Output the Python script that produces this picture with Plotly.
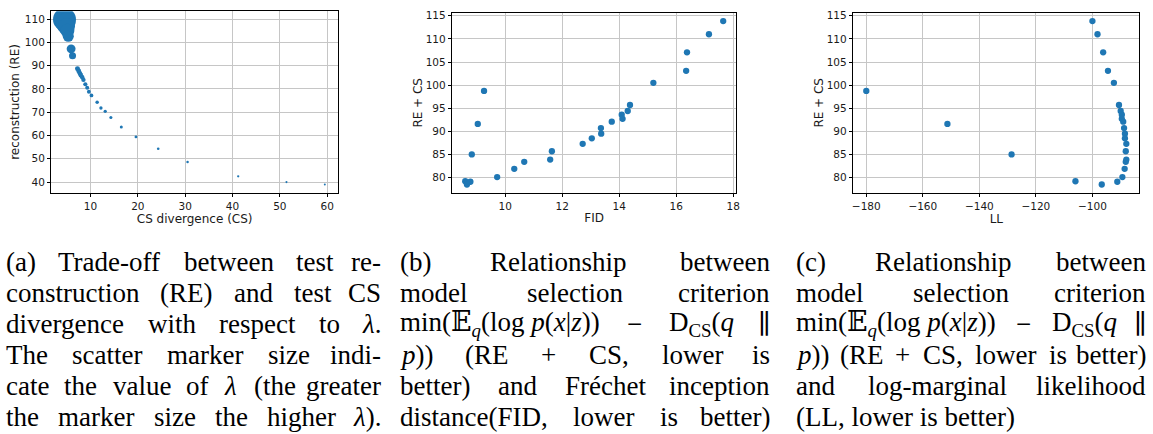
import re
import plotly.graph_objects as go

# ---------------- data ----------------
# (a) trade-off RE vs CS, marker size ~ lambda
a_cs = [4.5, 4.7, 4.9, 5.1, 5.3, 5.9, 6.2, 7.25, 7.5, 7.75, 7.95, 8.25, 8.5, 8.9,
        9.3, 9.65, 10.2, 11.4, 12.2, 13.1, 14.3, 16.5, 19.6, 24.3, 30.5, 41.2, 51.4, 59.5]
a_re = [109.8, 108.3, 106.8, 105.0, 102.6, 97.2, 94.2, 88.7, 87.7, 86.7, 85.9, 85.0,
        83.9, 82.0, 80.5, 78.8, 77.2, 74.3, 71.8, 70.4, 67.7, 63.7, 59.4, 54.3, 48.6,
        42.5, 40.0, 39.0]
a_lambda = [100, 75, 55, 37, 23, 15, 9.3, 4.7, 4.5, 4.2, 4.0, 3.8, 3.6, 3.3, 3.0, 2.8,
            2.6, 2.3, 2.1, 2.0, 1.8, 1.7, 1.5, 1.3, 1.2, 1.0, 0.8, 0.75]

# (b) RE + CS vs FID, (c) RE + CS vs LL
b_fid = [17.65, 17.15, 16.38, 16.35, 15.2, 9.26, 14.38, 14.3, 14.09, 14.12, 13.74, 9.04,
         13.36, 13.37, 13.04, 12.72, 11.64, 8.83, 11.58, 10.67, 10.32, 9.72, 8.6, 8.78, 8.66]
re_cs = [113.85, 111.0, 107.1, 103.1, 100.5, 98.75, 95.7, 94.4, 93.6, 92.7, 92.1, 91.6,
         90.7, 89.5, 88.5, 87.3, 85.7, 85.0, 83.9, 83.4, 81.9, 80.1, 79.2, 79.1, 78.5]
c_ll = [-100.0, -98.2, -96.2, -94.5, -92.4, -180.0, -90.6, -90.0, -89.6, -89.6, -89.1,
        -151.3, -88.8, -88.5, -88.5, -88.0, -88.2, -128.6, -88.0, -88.2, -88.6, -89.4,
        -106.0, -91.2, -96.7]

a_xticks = [10, 20, 30, 40, 50, 60]
a_yticks = [40, 50, 60, 70, 80, 90, 100, 110]
b_xticks = [10, 12, 14, 16, 18]
bc_yticks = [80, 85, 90, 95, 100, 105, 110, 115]
c_xticks = [-180, -160, -140, -120, -100]

# captions: list of (tokens, justified); tokens are the stretchable words
cap_a = [
    (["(a)", "Trade-off", "between", "test", "re-"], True),
    (["construction", "(RE)", "and", "test", "CS"], True),
    (["divergence", "with", "respect", "to", "<i>λ</i>."], True),
    (["The", "scatter", "marker", "size", "indi-"], True),
    (["cate", "the", "value", "of", "<i>λ</i>", "(the", "greater"], True),
    (["the", "marker", "size", "the", "higher", "<i>λ</i>)."], True),
]
MATH = ["min(𝔼<sub><i>q</i></sub>(log <i>p</i>(<i>x</i>|<i>z</i>))", "−",
        "D<sub>CS</sub>(<i>q</i>", "∥"]
cap_b = [
    (["(b)", "Relationship", "between"], True),
    (["model", "selection", "criterion"], True),
    (MATH, True),
    (["<i>p</i>))", "(RE", "+", "CS,", "lower", "is"], True),
    (["better)", "and", "Fréchet", "inception"], True),
    (["distance(FID,", "lower", "is", "better)"], True),
]
cap_c = [
    (["(c)", "Relationship", "between"], True),
    (["model", "selection", "criterion"], True),
    (MATH, True),
    (["<i>p</i>))", "(RE", "+", "CS,", "lower", "is", "better)"], True),
    (["and", "log-marginal", "likelihood"], True),
    (["(LL,", "lower", "is", "better)"], False),
]

# ---------------- layout ----------------
W, H = 1153, 434
BLUE = "#1f77b4"
GRID = "#c6c6c6"
TICKF = dict(family="DejaVu Sans", size=10.5, color="#1a1a1a")
TITLEF = dict(family="DejaVu Sans", size=12, color="#1a1a1a")


def auto_range(v, m=0.05):
    lo, hi = min(v), max(v)
    s = hi - lo
    return [lo - m * s, hi + m * s]


def px_dom(x0, x1):
    return [x0 / W, x1 / W]


def py_dom(top, bottom):
    return [1 - bottom / H, 1 - top / H]


fig = go.Figure()
fig.add_trace(go.Scatter(
    x=a_cs, y=a_re, mode="markers", xaxis="x", yaxis="y",
    marker=dict(color=BLUE, opacity=1, size=[2.3 * l ** 0.5 for l in a_lambda],
                line=dict(width=0)),
    cliponaxis=True, showlegend=False))
fig.add_trace(go.Scatter(
    x=b_fid, y=re_cs, mode="markers", xaxis="x2", yaxis="y2",
    marker=dict(color=BLUE, opacity=1, size=6.3, line=dict(width=0)), showlegend=False))
fig.add_trace(go.Scatter(
    x=c_ll, y=re_cs, mode="markers", xaxis="x3", yaxis="y3",
    marker=dict(color=BLUE, opacity=1, size=6.3, line=dict(width=0)), showlegend=False))


def ax(**kw):
    d = dict(showline=True, mirror=True, linecolor="black", linewidth=1,
             ticks="outside", ticklen=3.5, tickwidth=1, tickcolor="black",
             showgrid=True, gridcolor=GRID, gridwidth=1, zeroline=False,
             tickfont=TICKF, title_font=TITLEF, tickmode="array")
    d.update(kw)
    return d


fig.update_layout(
    width=W, height=H, margin=dict(l=0, r=0, t=0, b=0),
    paper_bgcolor="white", plot_bgcolor="white",
    xaxis=ax(domain=px_dom(50.7, 338.3), anchor="y", range=auto_range(a_cs),
             tickvals=a_xticks, title=dict(text="CS divergence (CS)", standoff=2)),
    yaxis=ax(domain=py_dom(8.3, 191), anchor="x", range=auto_range(a_re),
             tickvals=a_yticks, title=dict(text="reconstruction (RE)", standoff=2)),
    xaxis2=ax(domain=px_dom(453.3, 738.3), anchor="y2", range=auto_range(b_fid),
              tickvals=b_xticks, title=dict(text="FID", standoff=2)),
    yaxis2=ax(domain=py_dom(10, 191), anchor="x2", range=auto_range(re_cs),
              tickvals=bc_yticks, title=dict(text="RE + CS", standoff=0)),
    xaxis3=ax(domain=px_dom(856, 1143.3), anchor="y3", range=auto_range(c_ll),
              tickvals=c_xticks, title=dict(text="LL", standoff=2)),
    yaxis3=ax(domain=py_dom(10, 191), anchor="x3", range=auto_range(re_cs),
              tickvals=bc_yticks, title=dict(text="RE + CS", standoff=0)),
)

# ---------------- captions (justified) ----------------
CAP_SIZE = 27
CAP_FAMILY = "Liberation Serif, DejaVu Serif, serif"
TW = {' ': 250, '(': 333, ')': 333, '+': 564, ',': 250, '-': 333, '.': 250, '|': 200,
      'A': 722, 'B': 667, 'C': 667, 'D': 722, 'E': 611, 'F': 556, 'I': 333, 'L': 611,
      'R': 667, 'S': 556, 'T': 611,
      'a': 444, 'b': 500, 'c': 444, 'd': 500, 'e': 444, 'f': 333, 'g': 500, 'h': 500,
      'i': 278, 'j': 278, 'k': 500, 'l': 278, 'm': 778, 'n': 500, 'o': 500, 'p': 500,
      'q': 500, 'r': 333, 's': 389, 't': 278, 'u': 500, 'v': 500, 'w': 722, 'x': 500,
      'y': 500, 'z': 444, 'é': 444, 'λ': 550, '−': 564, '∥': 500, '𝔼': 720}


def text_w(s, size):
    w = 0.0
    scale = 1.0
    for tok in re.split(r"(<[^>]+>)", s):
        if tok.startswith("<"):
            if tok == "<sub>":
                scale = 0.7
            elif tok == "</sub>":
                scale = 1.0
            continue
        for ch in tok:
            w += TW.get(ch, 500) * scale
    return w * size / 1000.0


def put(text, x, y, anchor):
    fig.add_annotation(x=x / W, y=1 - y / H, xref="paper", yref="paper",
                       text=text, showarrow=False, xanchor=anchor, yanchor="middle",
                       font=dict(family=CAP_FAMILY, size=CAP_SIZE, color="black"))


def add_caption(lines, left, right, y0, dy=31.1):
    for i, (words, just) in enumerate(lines):
        y = y0 + i * dy
        if not just or len(words) == 1:
            put(" ".join(words), left, y, "left")
            continue
        ws = [text_w(w, CAP_SIZE) for w in words]
        gap = (right - left - sum(ws)) / (len(words) - 1)
        x = left
        for j, (w, wd) in enumerate(zip(words, ws)):
            if j == len(words) - 1:
                put(w, right, y, "right")
            else:
                put(w, x, y, "left")
            x += wd + gap


add_caption(cap_a, 3, 384, 261)
add_caption(cap_b, 399, 774, 261)
add_caption(cap_c, 796, 1152, 261)

fig.write_html("out.html", config={"displayModeBar": False},
               post_script="document.body.style.margin='0';document.body.style.overflow='hidden';")
